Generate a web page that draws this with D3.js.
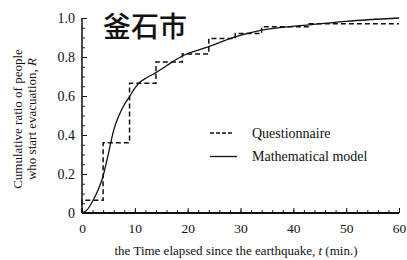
<!DOCTYPE html>
<html>
<head>
<meta charset="utf-8">
<script src="https://cdn.jsdelivr.net/npm/d3@7"></script>
<style>
  body { margin: 0; background: #fff; }
  text { font-family: "Liberation Serif", "DejaVu Serif", serif; fill: #111; }
</style>
</head>
<body>
<div id="chart"></div>
<script>
// questionnaire steps (t in min, cumulative ratio R)
const stepT = [0, 0, 4, 9, 14, 19, 24, 29, 34, 43, 60];
const stepR = [0, 0.065, 0.36, 0.665, 0.775, 0.815, 0.895, 0.92, 0.955, 0.97, 0.97];

// mathematical model curve
const modelT = [0, 1, 2, 3, 4, 5, 6, 7, 8, 9, 10, 11, 12, 14, 16, 19, 24, 29, 34, 43, 50, 60];
const modelR = [0, 0.017, 0.06, 0.115, 0.19, 0.305, 0.425, 0.5, 0.555, 0.597, 0.64, 0.672, 0.69, 0.72, 0.755, 0.805, 0.853, 0.903, 0.938, 0.965, 0.983, 1.0];

const xTicks = [0, 10, 20, 30, 40, 50, 60];
const yTicks = [0, 0.2, 0.4, 0.6, 0.8, 1.0];
const yTickLabels = ['0', '0.2', '0.4', '0.6', '0.8', '1.0'];

const width = 407, height = 260;
const margin = { left: 82, right: 8, top: 18, bottom: 47 };

const svg = d3.select('#chart').append('svg')
    .attr('width', width)
    .attr('height', height);

const x = d3.scaleLinear().domain([0, 60]).range([margin.left, width - margin.right]);
const y = d3.scaleLinear().domain([0, 1]).range([height - margin.bottom, margin.top]);

// minor ticks
const xMinor = d3.range(0, 61, 2);
const yMinor = d3.range(0, 1.001, 0.05);

svg.append('g')
    .attr('transform', `translate(0, ${y(0)})`)
    .call(d3.axisBottom(x).tickValues(xMinor).tickSize(-3).tickFormat(''))
    .call(g => g.select('.domain').remove())
    .selectAll('line').attr('stroke', '#222');

svg.append('g')
    .attr('transform', `translate(${x(0)}, 0)`)
    .call(d3.axisLeft(y).tickValues(yMinor).tickSize(-3).tickFormat(''))
    .call(g => g.select('.domain').remove())
    .selectAll('line').attr('stroke', '#222');

// major axes
const xAxis = svg.append('g')
    .attr('transform', `translate(0, ${y(0)})`)
    .call(d3.axisBottom(x).tickValues(xTicks).tickSize(-5).tickPadding(10).tickFormat(d3.format('d')));
xAxis.select('.domain').attr('stroke', '#111').attr('stroke-width', 2).attr('d', `M${x(0)},0H${x(60)}`);
xAxis.selectAll('line').attr('stroke', '#111');
xAxis.selectAll('text').attr('font-size', 13.5).attr('font-family', '"Liberation Serif", serif').attr('fill', '#111');

const yAxis = svg.append('g')
    .attr('transform', `translate(${x(0)}, 0)`)
    .call(d3.axisLeft(y).tickValues(yTicks).tickSize(-5).tickPadding(7).tickFormat((d, i) => yTickLabels[i]));
yAxis.select('.domain').attr('stroke', '#111').attr('stroke-width', 1.5).attr('d', `M0,${y(0)}V${y(1)}`);
yAxis.selectAll('line').attr('stroke', '#111');
yAxis.selectAll('text').attr('font-size', 14).attr('font-family', '"Liberation Serif", serif').attr('fill', '#111');

// questionnaire dashed steps
const stepLine = d3.line()
    .x(d => x(d[0]))
    .y(d => y(d[1]))
    .curve(d3.curveStepAfter);

svg.append('path')
    .datum(stepT.map((t, i) => [t, stepR[i]]))
    .attr('fill', 'none')
    .attr('stroke', '#111')
    .attr('stroke-width', 1.5)
    .attr('stroke-dasharray', '5,3')
    .attr('d', stepLine);

// model curve
const modelLine = d3.line()
    .x(d => x(d[0]))
    .y(d => y(d[1]))
    .curve(d3.curveMonotoneX);

svg.append('path')
    .datum(modelT.map((t, i) => [t, modelR[i]]))
    .attr('fill', 'none')
    .attr('stroke', '#111')
    .attr('stroke-width', 1.3)
    .attr('d', modelLine);

// title
svg.append('text')
    .attr('x', 145)
    .attr('y', 37)
    .attr('text-anchor', 'middle')
    .style('font-family', '"Noto Sans CJK JP", "Noto Sans CJK SC", sans-serif')
    .attr('font-size', 28)
    .attr('font-weight', 500)
    .attr('fill', '#000')
    .text('釜石市');

// legend
const legend = svg.append('g');
legend.append('line')
    .attr('x1', 210).attr('x2', 234).attr('y1', 133).attr('y2', 133)
    .attr('stroke', '#111').attr('stroke-width', 1.3).attr('stroke-dasharray', '4,2');
legend.append('text')
    .attr('x', 252).attr('y', 137.5)
    .attr('font-size', 14)
    .text('Questionnaire');
legend.append('line')
    .attr('x1', 210).attr('x2', 237).attr('y1', 156.5).attr('y2', 156.5)
    .attr('stroke', '#111').attr('stroke-width', 1.3);
legend.append('text')
    .attr('x', 252).attr('y', 161)
    .attr('font-size', 14)
    .text('Mathematical model');

// axis titles
const xTitle = svg.append('text')
    .attr('x', 236)
    .attr('y', 255)
    .attr('text-anchor', 'middle')
    .attr('font-size', 13);
xTitle.append('tspan').text('the Time elapsed since the earthquake, ');
xTitle.append('tspan').attr('font-style', 'italic').text('t');
xTitle.append('tspan').text(' (min.)');

const yTitle = svg.append('text')
    .attr('transform', 'translate(22, 119) rotate(-90)')
    .attr('text-anchor', 'middle')
    .attr('font-size', 13);
yTitle.append('tspan').attr('x', 0).attr('y', 0).text('Cumulative ratio of people');
const yLine2 = yTitle.append('tspan').attr('x', 0).attr('y', 14);
yLine2.append('tspan').text('who start evacuation, ');
yLine2.append('tspan').attr('font-style', 'italic').text('R');
</script>
</body>
</html>
